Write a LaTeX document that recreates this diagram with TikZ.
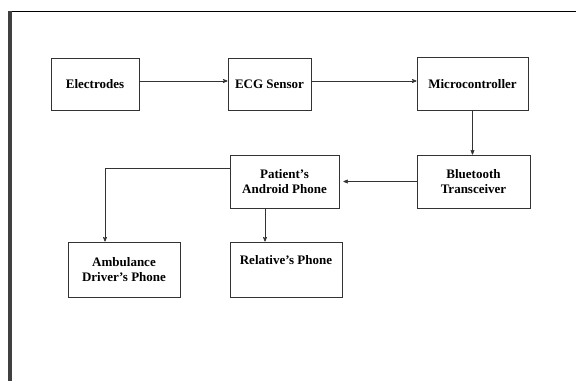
\documentclass[tikz,border=0pt]{standalone}
\usepackage{fontspec}
\setmainfont{Liberation Serif}
\usetikzlibrary{arrows,positioning}
\tikzset{
    >=stealth',
    block/.style={
        rectangle,
        draw=black!80, line width=0.9pt,
        minimum height=52pt,
        text centered,
        align=center,
        inner sep=0pt,
        font={\fontsize{13pt}{15pt}\selectfont\bfseries},
    },
    line/.style={draw, black!80, line width=0.7pt, ->},
}
\begin{document}
\begin{tikzpicture}[x=1pt,y=-1pt]
\useasboundingbox (0,0) rectangle (576,381);
% page frame
\draw[line width=0.8pt] (9,11) -- (576,11);
\draw[black!75, line width=3.5pt] (10,11) -- (10,381);

\node (elec) at (95,84) [block, minimum width=88pt] {Electrodes};
\node (ecg) at (269.5,84) [block, minimum width=83pt] {ECG Sensor};
\node (micro) at (472.5,84) [block, minimum width=111pt, minimum height=53pt] {Microcontroller};
\node (blue) at (473.5,181.5) [block, minimum width=113pt, minimum height=53pt] {Bluetooth\\Transceiver};
\node (phone) at (284.5,181.5) [block, minimum width=109pt, minimum height=53pt] {Patient's\\Android Phone};
\node (amb) at (124,269.5) [block, minimum width=112pt, minimum height=55pt] {Ambulance\\Driver's Phone};
\node (rel) at (286,269.5) [block, minimum width=112pt, minimum height=55pt] {Relative's Phone\\\strut};

\path[line] ([yshift=3pt]elec.east) -- ([yshift=3pt]ecg.west);
\path[line] ([yshift=3pt]ecg.east) -- ([yshift=3pt]micro.west);
\path[line] (micro.south) -- (micro.south |- blue.north);
\path[line] (blue.west) -- ([xshift=4pt]phone.east);
\path[line] ([yshift=13pt]phone.west) -| ([xshift=-19pt]amb.north);
\path[line] ([xshift=-19.5pt]phone.south) -- ([xshift=-19.5pt]phone.south |- rel.north);
\end{tikzpicture}
\end{document}
